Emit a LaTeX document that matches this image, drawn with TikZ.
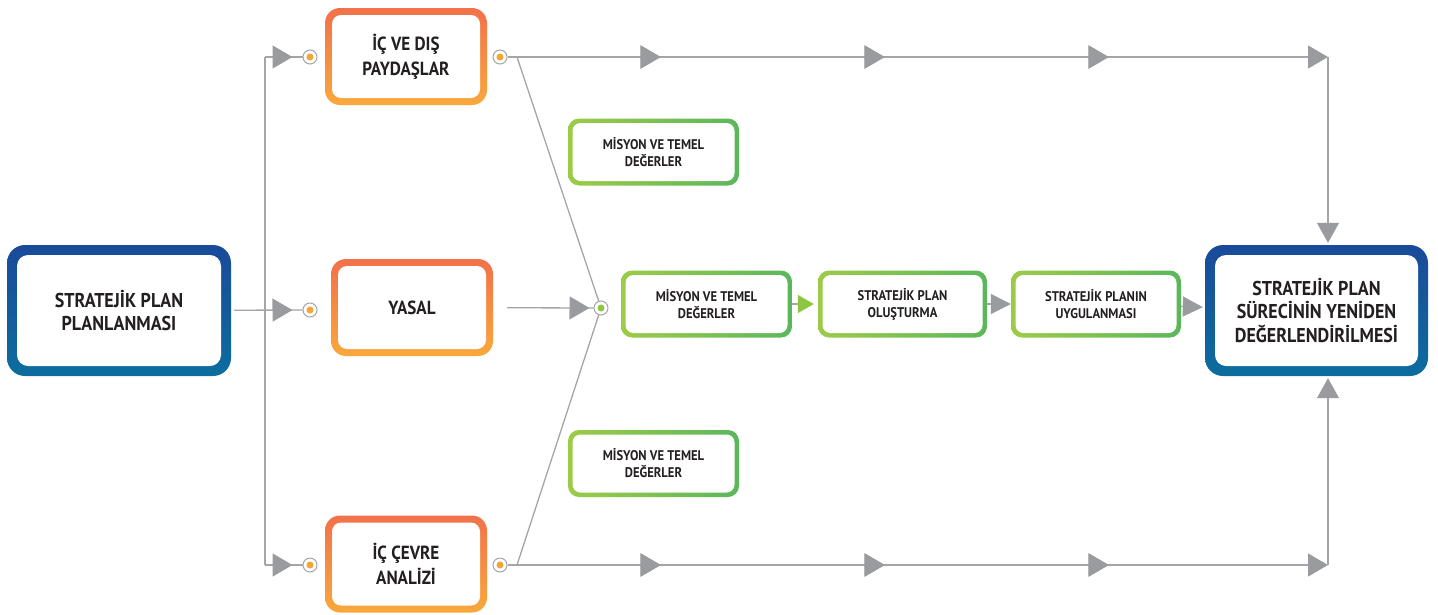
\documentclass[tikz,border=0pt]{standalone}
\usepackage{fontspec}
\setmainfont{PT Sans}[FakeStretch=0.9]
\usetikzlibrary{positioning, arrows.meta, decorations.markings}

\definecolor{planblue}{HTML}{1A4A9A}
\definecolor{planteal}{HTML}{0C6D9E}
\definecolor{deeporange}{HTML}{F2714A}
\definecolor{paleorange}{HTML}{F9A83B}
\definecolor{lightgreen}{HTML}{9CCB47}
\definecolor{deepgreen}{HTML}{5BB75B}
\definecolor{linegray}{HTML}{A3A5A7}
\definecolor{tipgray}{HTML}{999B9E}
\definecolor{dotorange}{HTML}{F7A531}
\definecolor{dotgreen}{HTML}{8DC63F}
\definecolor{inkgray}{HTML}{231F20}

\begin{document}
\begin{tikzpicture}[x=1pt, y=-1pt,
  frame/.style n args={3}{rounded corners=#1, inner sep=0pt, align=center, text=inkgray,
    path picture={\fill[white, rounded corners=#3]
      ([shift={(#2,#2)}]path picture bounding box.south west) rectangle
      ([shift={(-#2,-#2)}]path picture bounding box.north east);}},
  bluebox/.style={frame={18pt}{10pt}{11pt}, top color=planblue, bottom color=planteal,
    minimum width=224pt, minimum height=131pt, font=\bfseries\fontsize{20}{23.5}\selectfont},
  orangebox/.style={frame={15pt}{7pt}{9pt}, top color=deeporange, bottom color=paleorange,
    minimum width=162pt, minimum height=97pt, font=\bfseries\fontsize{19}{25}\selectfont},
  greenbox/.style={frame={11pt}{4.5pt}{8pt}, left color=lightgreen, right color=deepgreen,
    minimum width=171pt, minimum height=67pt, font=\bfseries\fontsize{14}{17}\selectfont},
  portdot/.style={circle, draw=linegray, line width=1pt, fill=white, minimum size=14pt, inner sep=0pt,
    path picture={\fill[#1] (path picture bounding box.center) circle (3.5pt);}},
  portdot/.default=dotorange,
  conn/.style={draw=linegray, line width=1.3pt},
  bigtip/.style={-{Triangle[length=20pt, width=#1, color=tipgray]}},
  bigtip/.default=23pt,
  midtip/.style={postaction={decorate}, decoration={markings,
    mark=at position #1 with {\arrow{Triangle[length=20pt, width=23pt, color=tipgray]}}}}]

\useasboundingbox (0,0) rectangle (1438,614);

% boxes
\node[bluebox] (plan) at (119,310.5) {STRATEJİK PLAN\\PLANLANMASI};
\node[orangebox] (paydas) at (406,56.5) {İÇ VE DIŞ\\PAYDAŞLAR};
\node[orangebox] (yasal) at (412,307.5) {YASAL};
\node[orangebox] (cevre) at (406,564) {İÇ ÇEVRE\\ANALİZİ};
\node[greenbox] (misyonA) at (653.5,152) {MİSYON VE TEMEL\\DEĞERLER};
\node[greenbox] (misyonB) at (706.5,304) {MİSYON VE TEMEL\\DEĞERLER};
\node[greenbox, minimum width=169pt] (olustur) at (902.5,304) {STRATEJİK PLAN\\OLUŞTURMA};
\node[greenbox, minimum width=170pt] (uygula) at (1096,304) {STRATEJİK PLANIN\\UYGULANMASI};
\node[greenbox] (misyonC) at (653.5,463.5) {MİSYON VE TEMEL\\DEĞERLER};
\node[bluebox, minimum width=223pt] (yeniden) at (1316.5,310.5) {STRATEJİK PLAN\\SÜRECİNİN YENİDEN\\DEĞERLENDİRİLMESİ};

% ports
\node[portdot] (c1) at (310,57) {};
\node[portdot] (c2) at (310,310) {};
\node[portdot] (c3) at (310,565) {};
\node[portdot] (c4) at (500,57) {};
\node[portdot] (c5) at (500,565) {};
\node[portdot=dotgreen] (c6) at (601,308) {};

\coordinate (vt) at (265,57);
\coordinate (vb) at (265,565);
\coordinate (ka) at (517,57);
\coordinate (kb) at (517,565);
\coordinate (ra) at (1328,57);
\coordinate (rb) at (1328,565);

% left fan
\draw[conn] (vt) -- (vb);
\draw[conn, midtip=-10pt] (vt) -- (c1);
\draw[conn, midtip=-10pt] (vb) -- (c3);
\draw[conn, midtip=-10pt, shorten <=3pt] (plan) -- (c2);

% into the middle port
\draw[conn] (ka) -- (c6);
\draw[conn] (kb) -- (c6);
\draw[conn, midtip=-4pt, shorten <=14pt] (yasal) -- (c6);

% long lines
\draw[conn, midtip=153pt, midtip=377pt, midtip=601pt, bigtip] (c4) -- (ra);
\draw[conn, bigtip=22pt, shorten >=2pt] (ra) -- (ra |- yeniden.north);
\draw[conn, midtip=153pt, midtip=377pt, midtip=601pt, bigtip] (c5) -- (rb);
\draw[conn, bigtip=22pt, shorten >=2pt] (rb) -- (rb |- yeniden.south);

% green chain
\draw[conn, -{Triangle[length=16pt, width=18pt, color=dotgreen]}, shorten >=4pt] (misyonB) -- (olustur);
\draw[conn, bigtip=20pt] (olustur) -- (uygula);
\draw[conn, bigtip=20pt, shorten >=2pt] (uygula) -- (yeniden);
\end{tikzpicture}
\end{document}
